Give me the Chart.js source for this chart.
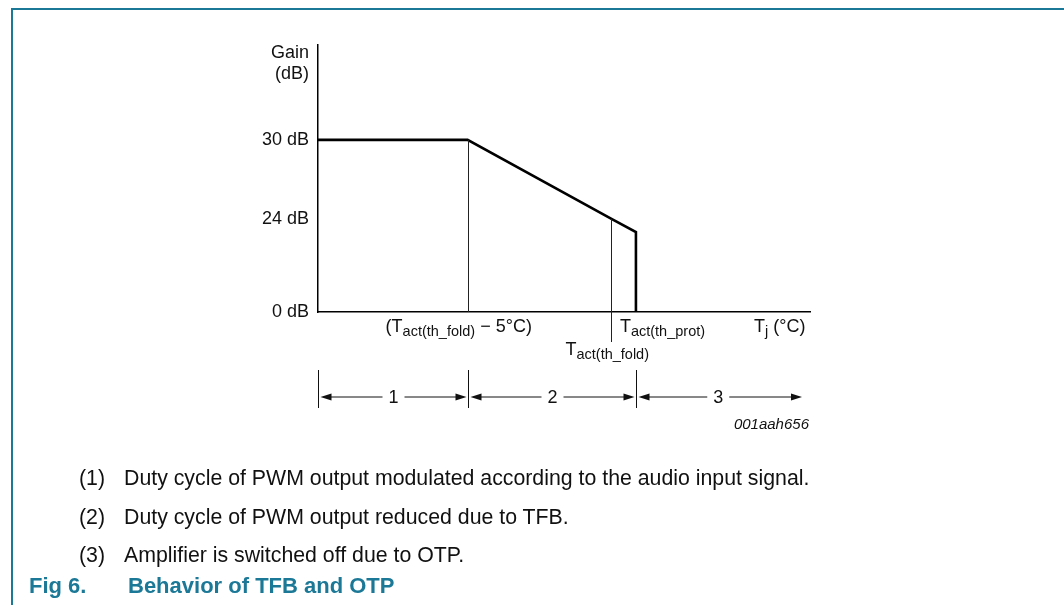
<!DOCTYPE html>
<html>
<head>
<meta charset="utf-8">
<script src="https://cdn.jsdelivr.net/npm/chart.js@4/dist/chart.umd.min.js"></script>
<style>
  body { margin: 0; background: #fff; font-family: "Liberation Sans", Arial, sans-serif; color: #111; }
  #page { position: relative; width: 1064px; height: 605px; overflow: hidden; }
  #frame { position: absolute; left: 11px; top: 8px; right: -4px; bottom: -4px; border-top: 2px solid #1b7896; border-left: 2px solid #1b7896; }
  #wrap { position: absolute; left: 0; top: 0; width: 1064px; height: 605px; }
  .lbl { position: absolute; font-size: 18px; white-space: nowrap; line-height: 20px; }
  .lbl sub { font-size: 14.5px; vertical-align: -4px; }
  .note { position: absolute; font-size: 21.3px; white-space: nowrap; line-height: 24px; }
  .note b { font-weight: normal; position: absolute; left: -45px; }
  #caption { position: absolute; left: 29px; top: 573px; font-size: 22px; line-height: 26px; font-weight: bold; color: #1b7896; white-space: nowrap; }
  #caption span { position: absolute; left: 99px; }
  #code { position: absolute; font-size: 15px; font-style: italic; right: 255px; top: 415px; }
</style>
</head>
<body>
<div id="page">
  <div id="frame"></div>
  <div id="wrap"><canvas id="gainChart"></canvas></div>

  <div class="lbl" style="right:755px; top:42px;">Gain</div>
  <div class="lbl" style="right:755px; top:63px;">(dB)</div>

  <div class="lbl" id="lblFold5">(T<sub>act(th_fold)</sub> − 5°C)</div>
  <div class="lbl" id="lblProt">T<sub>act(th_prot)</sub></div>
  <div class="lbl" id="lblFold">T<sub>act(th_fold)</sub></div>
  <div class="lbl" id="lblTj">T<sub>j</sub> (°C)</div>

  <div id="code">001aah656</div>

  <div class="note" style="left:124px; top:466px;"><b>(1)</b>Duty cycle of PWM output modulated according to the audio input signal.</div>
  <div class="note" style="left:124px; top:505px;"><b>(2)</b>Duty cycle of PWM output reduced due to TFB.</div>
  <div class="note" style="left:124px; top:543px;"><b>(3)</b>Amplifier is switched off due to OTP.</div>

  <div id="caption">Fig 6.<span>Behavior of TFB and OTP</span></div>
</div>

<script>
// junction temperature, relative to Tact(th_fold) in degC (schematic)
const tempPoints = [-10.2, -5, 0, 0.85, 0.85];
const gainDb = [30, 30, 24, 23, 0];
const gainTicks = [0, 24, 30];
const tempFold5 = -5;
const tempFold = 0;
const tempProt = 0.85;
const regionLabels = ['1', '2', '3'];

// linear scale with a compressed lower part (the drawing is not to scale below ~20 dB)
class KneeScale extends Chart.LinearScale {
    toDecimal(v) {
        const k = this.options.knee, f = this.options.kneeAt;
        if (v <= k) return (v - this.min) / (k - this.min) * f;
        return f + (v - k) / (this.max - k) * (1 - f);
    }
    getPixelForValue(value) {
        return this.getPixelForDecimal(this.toDecimal(value));
    }
    getValueForPixel(pixel) {
        const d = this.getDecimalForPixel(pixel);
        const k = this.options.knee, f = this.options.kneeAt;
        if (d <= f) return this.min + d / f * (k - this.min);
        return k + (d - f) / (1 - f) * (this.max - k);
    }
}
KneeScale.id = 'knee';
KneeScale.defaults = {};
Chart.register(KneeScale);

const extras = {
    id: 'extras',
    afterDatasetsDraw(chart) {
        const {ctx, scales: {x, y}, chartArea} = chart;
        ctx.save();
        ctx.strokeStyle = '#222';
        ctx.lineWidth = 1;
        // thin guide lines
        let px = Math.round(x.getPixelForValue(tempFold5)) + 0.5;
        ctx.beginPath();
        ctx.moveTo(px, y.getPixelForValue(30));
        ctx.lineTo(px, chartArea.bottom);
        px = Math.round(x.getPixelForValue(tempFold)) + 0.5;
        ctx.moveTo(px, y.getPixelForValue(24));
        ctx.lineTo(px, chartArea.bottom + 30);
        ctx.stroke();

        // regions row
        const bounds = [x.min, tempFold5, tempProt];
        const ay = chartArea.bottom + 85;
        const xs = bounds.map(b => Math.round(x.getPixelForValue(b)) + 0.5);
        xs.push(chartArea.right - 8);
        ctx.strokeStyle = '#111';
        ctx.fillStyle = '#111';
        ctx.beginPath();
        for (let i = 0; i < 3; i++) {
            ctx.moveTo(xs[i], chartArea.bottom + 58);
            ctx.lineTo(xs[i], chartArea.bottom + 96);
        }
        ctx.stroke();
        ctx.font = '18px "Liberation Sans", Arial, sans-serif';
        ctx.textAlign = 'center';
        ctx.textBaseline = 'middle';
        const head = (tip, dir) => {
            ctx.beginPath();
            ctx.moveTo(tip, ay);
            ctx.lineTo(tip - dir * 11, ay - 3.5);
            ctx.lineTo(tip - dir * 11, ay + 3.5);
            ctx.closePath();
            ctx.fill();
        };
        for (let i = 0; i < 3; i++) {
            const a = xs[i] + 2, b = xs[i + 1] - (i < 2 ? 2 : 0);
            const mid = (a + b) / 2 + (i === 2 ? -2 : 0);
            ctx.beginPath();
            ctx.moveTo(a + 8, ay); ctx.lineTo(mid - 11, ay);
            ctx.moveTo(mid + 11, ay); ctx.lineTo(b - 8, ay);
            ctx.stroke();
            head(a, -1);
            head(b, 1);
            ctx.fillText(regionLabels[i], mid, ay + 1);
        }
        ctx.restore();

        // place axis labels from the scale
        const place = (id, px, top, align) => {
            const el = document.getElementById(id);
            const w = el.offsetWidth;
            el.style.left = (align === 'center' ? px - w / 2 : align === 'right' ? px - w : px) + 'px';
            el.style.top = top + 'px';
        };
        place('lblFold5', x.getPixelForValue(tempFold5) - 9, chartArea.bottom + 4, 'center');
        place('lblProt', x.getPixelForValue(tempProt) - 16, chartArea.bottom + 4, 'left');
        place('lblFold', x.getPixelForValue(tempFold) - 46, chartArea.bottom + 27, 'left');
        place('lblTj', chartArea.right - 5, chartArea.bottom + 4, 'right');
    }
};

new Chart(document.getElementById('gainChart'), {
    type: 'scatter',
    data: {
        datasets: [{
            data: tempPoints.map((t, i) => ({x: t, y: gainDb[i]})),
            showLine: true,
            borderColor: '#000',
            borderWidth: 2.6,
            pointRadius: 0,
            borderJoinStyle: 'miter',
            clip: false
        }]
    },
    options: {
        responsive: true,
        maintainAspectRatio: false,
        animation: false,
        events: [],
        layout: { padding: { left: 0, top: 45, right: 254, bottom: 0 } },
        plugins: { legend: { display: false }, tooltip: { enabled: false } },
        scales: {
            x: {
                type: 'linear',
                min: -10.2,
                max: 6.9,
                grid: { display: false, drawTicks: false },
                border: { display: true, color: '#000', width: 1.5 },
                ticks: { display: false },
                afterFit: s => { s.height = 293; }
            },
            y: {
                type: 'knee',
                min: 0,
                max: 37.2,
                knee: 20,
                kneeAt: 0.151,
                grid: { display: false, drawTicks: false },
                border: { display: true, color: '#000', width: 1.5 },
                afterBuildTicks: s => { s.ticks = gainTicks.map(v => ({value: v})); },
                ticks: {
                    padding: 9,
                    color: '#111',
                    font: { family: '"Liberation Sans", Arial, sans-serif', size: 18 },
                    callback: v => v + ' dB'
                },
                afterFit: s => { s.width = 318; }
            }
        }
    },
    plugins: [extras]
});
</script>
</body>
</html>
